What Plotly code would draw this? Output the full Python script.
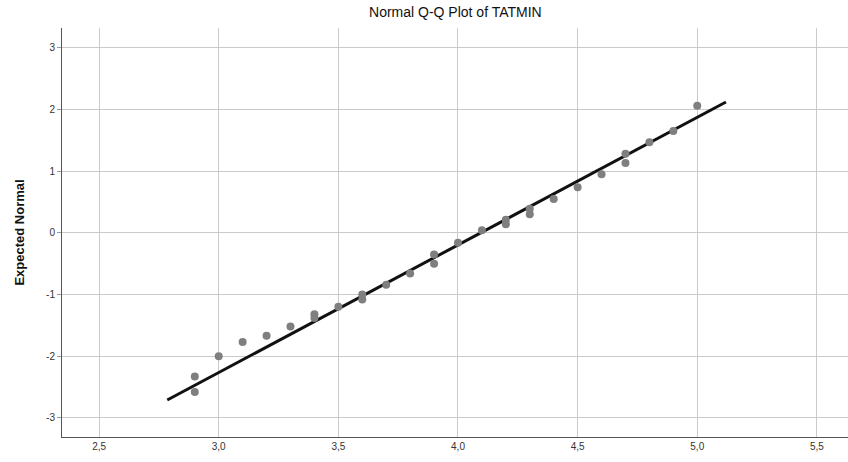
import plotly.graph_objects as go

obs_x = [2.9, 2.9, 3.0, 3.1, 3.2, 3.3, 3.4, 3.4, 3.5, 3.6, 3.6, 3.7, 3.8, 3.9, 3.9,
         4.0, 4.1, 4.2, 4.2, 4.3, 4.3, 4.4, 4.5, 4.6, 4.7, 4.7, 4.8, 4.9, 5.0]
exp_y = [-2.33, -2.58, -2.00, -1.77, -1.67, -1.52, -1.32, -1.38, -1.20, -1.00, -1.08,
         -0.84, -0.66, -0.35, -0.50, -0.16, 0.04, 0.21, 0.14, 0.39, 0.30, 0.55, 0.74,
         0.95, 1.28, 1.13, 1.47, 1.65, 2.06]
line_x = [2.785, 5.12]
line_y = [-2.71, 2.12]
x_ticks = [2.5, 3.0, 3.5, 4.0, 4.5, 5.0, 5.5]
x_ticklabels = ["2,5", "3,0", "3,5", "4,0", "4,5", "5,0", "5,5"]
y_ticks = [-3, -2, -1, 0, 1, 2, 3]
y_ticklabels = ["-3", "-2", "-1", "0", "1", "2", "3"]

fig = go.Figure()
fig.add_trace(go.Scatter(x=line_x, y=line_y, mode="lines",
                         line=dict(color="#111111", width=3), showlegend=False))
fig.add_trace(go.Scatter(x=obs_x, y=exp_y, mode="markers",
                         marker=dict(color="#7f7f7f", size=8), showlegend=False))

fig.update_layout(
    width=848, height=462,
    margin=dict(l=62, r=0, t=28, b=25, autoexpand=False),
    paper_bgcolor="white", plot_bgcolor="white",
    font=dict(family="Liberation Sans, Arial, sans-serif", color="#222222"),
    title=dict(text="Normal Q-Q Plot of TATMIN", x=0.537, xanchor="center",
               y=0.985, yanchor="top", font=dict(size=14, color="#111111"),
               automargin=False),
    separators=",.",
)
fig.update_xaxes(range=[2.345, 5.63], tickvals=x_ticks, ticktext=x_ticklabels,
                 showgrid=True, gridcolor="#cacaca", gridwidth=1,
                 showline=True, linecolor="#555555", linewidth=1,
                 ticks="outside", ticklen=0, tickfont=dict(size=10, color="#333333"),
                 zeroline=False, automargin=False)
fig.update_yaxes(range=[-3.31, 3.32], tickvals=y_ticks, ticktext=y_ticklabels,
                 showgrid=True, gridcolor="#cacaca", gridwidth=1,
                 showline=True, linecolor="#555555", linewidth=1,
                 ticks="outside", ticklen=4, tickcolor="#999999",
                 tickfont=dict(size=10, color="#333333"),
                 zeroline=False, automargin=False,
                 title=dict(text="<b>Expected Normal</b>", font=dict(size=13, color="#111111"),
                            standoff=18))

fig.write_html("out.html", config={"displayModeBar": False},
               post_script="document.body.style.margin='0';document.body.style.padding='0';document.body.style.overflow='hidden';")
